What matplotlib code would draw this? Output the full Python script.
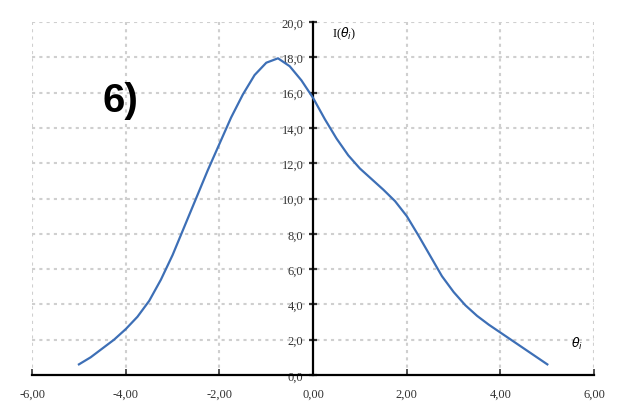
import matplotlib
matplotlib.use('Agg')
from matplotlib import pyplot as plt
import numpy as np

# values
theta = [-5.0, -4.75, -4.5, -4.25, -4.0, -3.75, -3.5, -3.25, -3.0, -2.75,
         -2.5, -2.25, -2.0, -1.75, -1.5, -1.25, -1.0, -0.75, -0.5, -0.25,
         0.0, 0.25, 0.5, 0.75, 1.0, 1.25, 1.5, 1.75, 2.0, 2.25,
         2.5, 2.75, 3.0, 3.25, 3.5, 3.75, 4.0, 4.25, 4.5, 4.75, 5.0]
intensity = [0.6, 1.0, 1.5, 2.0, 2.6, 3.3, 4.2, 5.4, 6.8, 8.4,
             10.0, 11.6, 13.1, 14.6, 15.9, 17.0, 17.7, 17.95, 17.5, 16.7,
             15.7, 14.5, 13.4, 12.45, 11.7, 11.1, 10.5, 9.85, 9.0, 7.9,
             6.75, 5.6, 4.7, 3.95, 3.35, 2.85, 2.4, 1.95, 1.5, 1.05, 0.6]
xticks = [-6, -4, -2, 0, 2, 4, 6]
yticks = [0, 2, 4, 6, 8, 10, 12, 14, 16, 18, 20]

plt.rcParams['font.family'] = ['Liberation Serif', 'DejaVu Serif']

fig = plt.figure(figsize=(6.17, 4.06), dpi=100)
ax = fig.add_axes([0.052, 0.074, 0.911, 0.869])

ax.set_xlim(-6, 6)
ax.set_ylim(0, 20)

# dashed grid, including the frame lines
for x in xticks:
    if x != 0:
        ax.axvline(x, color='#cfcfcf', lw=1.5, ls=(0, (1.5, 2)), zorder=0)
for y in yticks:
    if y != 0:
        ax.axhline(y, color='#cfcfcf', lw=1.5, ls=(0, (1.5, 2)), zorder=0)

ax.plot(theta, intensity, color='#3d6fb6', lw=1.6, zorder=3)

ax.spines['top'].set_visible(False)
ax.spines['right'].set_visible(False)
ax.spines['left'].set_position(('data', 0))
ax.spines['left'].set_linewidth(1.6)
ax.spines['bottom'].set_linewidth(1.6)

ax.set_xticks(xticks)
ax.set_xticklabels([f'{v:.2f}'.replace('.', ',') for v in xticks])
ax.set_yticks(yticks)
ax.set_yticklabels([f'{v:.1f}'.replace('.', ',') for v in yticks])
ax.tick_params(axis='x', direction='in', length=4, width=1.2, pad=9,
               labelsize=9, colors='#333333')
ax.tick_params(axis='y', direction='inout', length=6, width=1.6, pad=4,
               labelsize=9, colors='#333333')

ax.text(0.4, 19.4, r'I($\theta_i$)', fontsize=9, ha='left', va='center')
ax.text(5.5, 1.8, r'$\theta_i$', fontsize=9, ha='left', va='center')
ax.text(-4.5, 15.6, '6)', fontsize=29, fontweight='bold',
        family=['Liberation Sans', 'DejaVu Sans'], ha='left', va='center')

fig.savefig('out.png', dpi=100)
